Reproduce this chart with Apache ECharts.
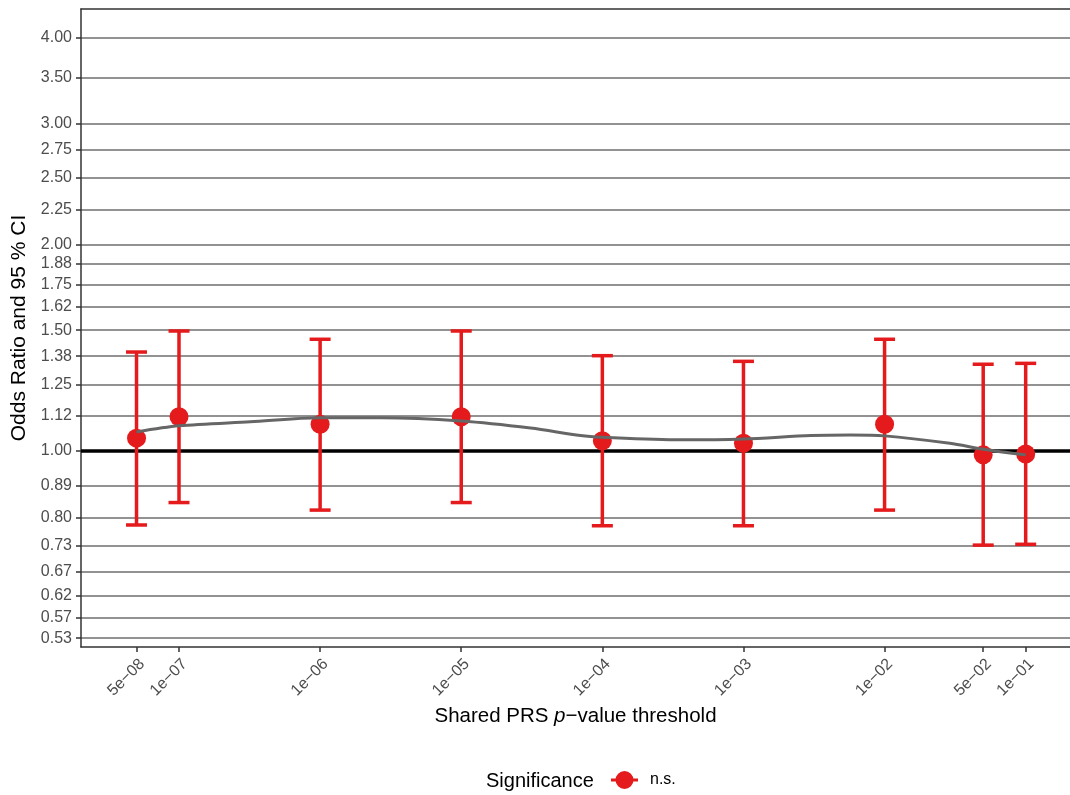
<!DOCTYPE html>
<html>
<head>
<meta charset="utf-8">
<script src="https://cdn.jsdelivr.net/npm/echarts@6/dist/echarts.min.js"></script>
<style>
  html, body { margin: 0; padding: 0; background: #ffffff; }
  #chart { width: 1070px; height: 795px; }
</style>
</head>
<body>
<div id="chart"></div>
<script>
// PRS p-value thresholds and their labels
const thresholds = [5e-8, 1e-7, 1e-6, 1e-5, 1e-4, 1e-3, 1e-2, 5e-2, 1e-1];
const thresholdLabels = ['5e\u221208', '1e\u221207', '1e\u221206', '1e\u221205', '1e\u221204',
                         '1e\u221203', '1e\u221202', '5e\u221202', '1e\u221201'];

// Odds ratio with 95 % confidence interval at each threshold
const oddsRatio = [1.044, 1.122, 1.094, 1.122, 1.035, 1.026, 1.094, 0.987, 0.990];
const ciLower   = [0.780, 0.841, 0.820, 0.841, 0.778, 0.778, 0.820, 0.729, 0.731];
const ciUpper   = [1.394, 1.496, 1.455, 1.496, 1.377, 1.351, 1.455, 1.338, 1.342];

// Smoothed trend through the odds ratios
const fitThresholds = [5e-8, 1e-7, 3.2e-7, 1e-6, 2.7e-6, 1e-5, 3.1e-5, 7e-5, 1e-4,
                       3.6e-4, 1e-3, 3e-3, 5.7e-3, 1e-2, 2.9e-2, 5e-2, 1e-1];
const fitOdds       = [1.066, 1.088, 1.103, 1.118, 1.118, 1.106, 1.080, 1.053, 1.047,
                       1.038, 1.041, 1.053, 1.055, 1.052, 1.026, 1.006, 0.987];

// Odds-ratio axis breaks and their labels
const oddsTicks = [1 / 1.875, 1 / 1.75, 1 / 1.625, 1 / 1.5, 1 / 1.375, 1 / 1.25, 1 / 1.125, 1,
                   1.125, 1.25, 1.375, 1.5, 1.625, 1.75, 1.875, 2, 2.25, 2.5, 2.75, 3, 3.5, 4];
const oddsTickLabels = ['0.53', '0.57', '0.62', '0.67', '0.73', '0.80', '0.89', '1.00',
                        '1.12', '1.25', '1.38', '1.50', '1.62', '1.75', '1.88', '2.00',
                        '2.25', '2.50', '2.75', '3.00', '3.50', '4.00'];

// Both axes are drawn on a log10 scale
const lg = Math.log10;
const xTickPos = thresholds.map(lg);
const yTickPos = oddsTicks.map(lg);
const labelFor = (positions, labels) => v => {
  const i = positions.findIndex(p => Math.abs(p - v) < 1e-9);
  return i >= 0 ? labels[i] : '';
};

const RED = '#E41A1C';
const FONT = '"Liberation Sans", Arial, Helvetica, sans-serif';
const X_MIN = -7.6945, X_MAX = -0.686;
const Y_MIN = -0.2858, Y_MAX = 0.6444;

const points = thresholds.map((t, i) => [lg(t), lg(oddsRatio[i])]);
const intervals = thresholds.map((t, i) => [lg(t), lg(ciLower[i]), lg(ciUpper[i])]);
const trend = fitThresholds.map((t, i) => [lg(t), lg(fitOdds[i])]);

const chart = echarts.init(document.getElementById('chart'), null, { renderer: 'canvas' });

chart.setOption({
  animation: false,
  backgroundColor: '#ffffff',
  grid: { left: 81, right: 0, top: 9, bottom: 148 },
  xAxis: [{
    type: 'value',
    min: X_MIN,
    max: X_MAX,
    name: '{n|Shared PRS }{i|p}{n|\u2212value threshold}',
    nameLocation: 'middle',
    nameGap: 59,
    nameTextStyle: {
      rich: {
        n: { fontFamily: FONT, fontSize: 20.5, color: '#000000' },
        i: { fontFamily: FONT, fontSize: 20.5, color: '#000000', fontStyle: 'italic' }
      }
    },
    axisLine: { show: true, onZero: false, lineStyle: { color: '#333333', width: 1.5 } },
    axisTick: { show: true, length: 5, customValues: xTickPos,
                lineStyle: { color: '#333333', width: 1.5 } },
    axisLabel: {
      customValues: xTickPos,
      rotate: 45, margin: 9,
      align: 'right', verticalAlign: 'top',
      fontFamily: FONT, fontSize: 16, color: '#4D4D4D',
      formatter: labelFor(xTickPos, thresholdLabels)
    },
    splitLine: { show: false }
  }, {
    // top edge of the panel
    type: 'value',
    position: 'top',
    min: X_MIN,
    max: X_MAX,
    axisLine: { show: true, onZero: false, lineStyle: { color: '#333333', width: 1.5 } },
    axisTick: { show: false },
    axisLabel: { show: false },
    splitLine: { show: false }
  }],
  yAxis: {
    type: 'value',
    min: Y_MIN,
    max: Y_MAX,
    name: 'Odds Ratio and 95 % CI',
    nameLocation: 'middle',
    nameGap: 41,
    nameTextStyle: { fontFamily: FONT, fontSize: 21, color: '#000000' },
    axisLine: { show: true, onZero: false, lineStyle: { color: '#333333', width: 1.5 } },
    axisTick: { show: true, length: 5, customValues: yTickPos,
                lineStyle: { color: '#333333', width: 1.5 } },
    axisLabel: {
      customValues: yTickPos,
      margin: 9,
      fontFamily: FONT, fontSize: 16, color: '#4D4D4D',
      formatter: labelFor(yTickPos, oddsTickLabels)
    },
    splitLine: { show: true, lineStyle: { color: '#6E6E6E', width: 1.5 } }
  },
  legend: {
    data: [{
      name: 'n.s.',
      icon: 'path://M0,7.5H27V10.5H0Z M13.5,0A9,9 0 1,1 13.5,18A9,9 0 1,1 13.5,0Z'
    }],
    left: 606, top: 766,
    itemWidth: 27, itemHeight: 18,
    selectedMode: false,
    textStyle: { fontFamily: FONT, fontSize: 16, color: '#000000', padding: [3, 0, 0, 7] }
  },
  graphic: [{
    type: 'text',
    left: 486, top: 771,
    style: { text: 'Significance', font: '20px ' + FONT, fill: '#000000' }
  }],
  series: [
    {
      name: 'CI',
      type: 'custom',
      z: 2,
      data: intervals,
      encode: { x: 0, y: [1, 2] },
      renderItem: function (params, api) {
        const x = api.value(0);
        const lo = api.coord([x, api.value(1)]);
        const hi = api.coord([x, api.value(2)]);
        const hw = 10.5;
        const style = { stroke: RED, lineWidth: 3.5, fill: null };
        return {
          type: 'group',
          children: [
            { type: 'line', shape: { x1: lo[0], y1: lo[1], x2: hi[0], y2: hi[1] }, style: style },
            { type: 'line', shape: { x1: lo[0] - hw, y1: lo[1], x2: lo[0] + hw, y2: lo[1] }, style: style },
            { type: 'line', shape: { x1: hi[0] - hw, y1: hi[1], x2: hi[0] + hw, y2: hi[1] }, style: style }
          ]
        };
      },
      markLine: {
        z: 1,
        silent: true,
        symbol: 'none',
        label: { show: false },
        lineStyle: { color: '#000000', width: 3.5, type: 'solid' },
        data: [{ yAxis: lg(1) }]
      }
    },
    {
      name: 'n.s.',
      type: 'scatter',
      z: 3,
      data: points,
      symbol: 'circle',
      symbolSize: 19,
      itemStyle: { color: RED, opacity: 1 },
      emphasis: { disabled: true }
    },
    {
      name: 'trend',
      type: 'line',
      z: 4,
      data: trend,
      smooth: 0.3,
      showSymbol: false,
      symbol: 'none',
      lineStyle: { color: '#666666', width: 3 },
      emphasis: { disabled: true }
    }
  ]
});
</script>
</body>
</html>
